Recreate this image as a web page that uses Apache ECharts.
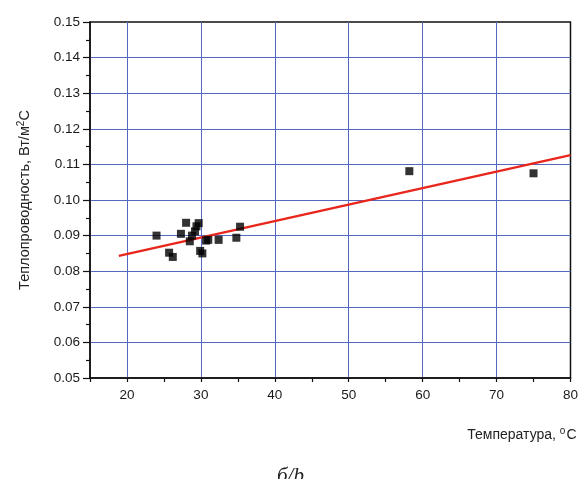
<!DOCTYPE html>
<html>
<head>
<meta charset="UTF-8">
<script src="https://cdn.jsdelivr.net/npm/echarts@6/dist/echarts.min.js"></script>
<title>Теплопроводность</title>
<style>
	html, body { margin: 0; padding: 0; background: #fff; }
	#chart { width: 581px; height: 479px; }
</style>
</head>
<body>
	<div id="chart"></div>
	<script>
		// измеренные точки: температура, °C / теплопроводность
		var tempPoints = [24.0, 25.7, 26.2, 27.3, 28.0, 28.5, 28.8, 29.2, 29.4, 29.7,
			29.9, 30.2, 30.7, 31.0, 32.4, 34.8, 35.3, 58.2, 75.0];
		var condPoints = [0.0900, 0.0852, 0.0840, 0.0905, 0.0936, 0.0884, 0.0900, 0.0912, 0.0926, 0.0935,
			0.0857, 0.0850, 0.0886, 0.0888, 0.0888, 0.0894, 0.0925, 0.1081, 0.1075];
		// линейная аппроксимация, концы линии
		var fitTemp = [18.9, 80];
		var fitCond = [0.0843, 0.1126];

		var gridColor = '#5468c2';
		var none = 'rgba(0,0,0,0)';
		var font = 'Liberation Sans, Arial, sans-serif';

		var scatterData = [];
		for (var i = 0; i < tempPoints.length; i++) {
			scatterData.push([tempPoints[i], condPoints[i]]);
		}
		var fitData = [];
		for (var j = 0; j < fitTemp.length; j++) {
			fitData.push([fitTemp[j], fitCond[j]]);
		}

		// вертикальная сетка только на 20, 30, ... 70 (шаг делений 5), рамку не перекрываем
		var xGridColors = [];
		for (var k = 0; k <= 13; k++) {
			xGridColors.push(k % 2 === 1 && k < 13 ? gridColor : none);
		}
		var yGridColors = [];
		for (var m = 0; m <= 10; m++) {
			yGridColors.push(m === 0 || m === 10 ? none : gridColor);
		}

		var chart = echarts.init(document.getElementById('chart'));
		var option = {
			animation: false,
			backgroundColor: '#fff',
			title: {
				text: 'б/b',
				left: 'center',
				top: 461,
				textStyle: {
					fontFamily: 'Liberation Serif, serif',
					fontStyle: 'italic',
					fontWeight: 'normal',
					fontSize: 21,
					color: '#222'
				}
			},
			grid: {
				left: 90,
				right: 9,
				top: 22,
				bottom: 101,
				show: true,
				borderColor: '#111',
				borderWidth: 1.5
			},
			xAxis: {
				type: 'value',
				min: 15,
				max: 80,
				interval: 5,
				name: 'Температура, {sup|o}C',
				nameLocation: 'end',
				nameGap: 6,
				nameTextStyle: {
					align: 'right',
					verticalAlign: 'top',
					padding: [48, 0, 0, 0],
					fontFamily: font,
					fontSize: 14,
					color: '#222',
					rich: {
						sup: { fontSize: 10, verticalAlign: 'top', padding: [0, 1, 8, 0], fontFamily: font, color: '#222' }
					}
				},
				axisLine: { lineStyle: { color: '#111', width: 1.5 } },
				axisTick: { length: 4, lineStyle: { color: '#111', width: 1.2 } },
				axisLabel: {
					margin: 10,
					fontFamily: font,
					fontSize: 13.5,
					color: '#1a1a1a',
					formatter: function (v) {
						return v % 10 === 0 ? String(v) : '';
					}
				},
				splitLine: { show: true, lineStyle: { color: xGridColors, width: 1 } }
			},
			yAxis: {
				type: 'value',
				min: 0.05,
				max: 0.15,
				interval: 0.01,
				name: 'Теплопроводность, Вт/м{sup|2}С',
				nameLocation: 'middle',
				nameGap: 56,
				nameTextStyle: {
					fontFamily: font,
					fontSize: 14.5,
					color: '#222',
					rich: {
						sup: { fontSize: 10, verticalAlign: 'top', padding: [0, 0, 8, 0], fontFamily: font, color: '#222' }
					}
				},
				axisLine: { lineStyle: { color: '#111', width: 1.5 } },
				axisTick: { length: 7, lineStyle: { color: '#111', width: 1.2 } },
				minorTick: { show: true, splitNumber: 2, length: 4, lineStyle: { color: '#111', width: 1.2 } },
				axisLabel: {
					margin: 10,
					fontFamily: font,
					fontSize: 13.5,
					color: '#1a1a1a',
					formatter: function (v) {
						return v.toFixed(2);
					}
				},
				splitLine: { show: true, lineStyle: { color: yGridColors, width: 1 } }
			},
			series: [
				{
					type: 'line',
					data: fitData,
					symbol: 'none',
					lineStyle: { color: '#e8261c', width: 2.5 },
					z: 3
				},
				{
					type: 'scatter',
					data: scatterData,
					symbol: 'rect',
					symbolSize: 8,
					itemStyle: { color: '#000' },
					z: 4
				}
			]
		};
		chart.setOption(option);
	</script>
</body>
</html>
